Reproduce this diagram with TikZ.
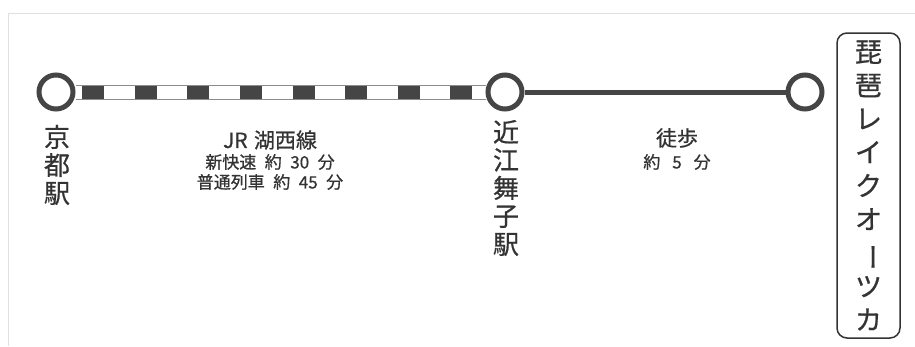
\documentclass[tikz,border=0pt]{standalone}
\usepackage{fontspec}
\newfontfamily\jpfont{Noto Sans CJK JP}[FakeBold=0.7]
\definecolor{ink}{HTML}{333333}
\definecolor{rail}{HTML}{454545}
\pgfdeclarelayer{back}
\pgfsetlayers{back,main}

\begin{document}
\begin{tikzpicture}[x=1pt,y=1pt,yscale=-1,
	station/.style={circle,draw=rail,line width=5pt,fill=white,minimum size=34pt,inner sep=0pt},
	tate/.style={align=center,text=ink,inner sep=0pt,font=\jpfont\fontsize{26}{28}\selectfont},
	head/.style={align=center,text=ink,inner sep=0pt,font=\jpfont\fontsize{21}{22}\selectfont},
	sub/.style={align=center,text=ink,inner sep=0pt,font=\jpfont\fontsize{17}{20}\selectfont},
	hotelbox/.style={draw=ink,line width=1.5pt,rounded corners=10pt,minimum width=63pt,minimum height=305pt,align=center,text=ink,inner sep=0pt,font=\jpfont\fontsize{27}{33.5}\selectfont}]
			\useasboundingbox (0,0) rectangle (915,346);
			\draw[black!12,line width=1pt] (8,346) -- (8,13) -- (915,13);
			
			\draw (56,92) node (kyoto) [station] {};
			\draw (505,92) node (omimaiko) [station] {};
			\draw (805,92) node (biwalake) [station] {};
			\draw (868.5,185.5) node (lakeotsuka) [hotelbox] {琵\\琶\\レ\\イ\\ク\\オ\\\rotatebox[origin=c]{-90}{ー}\\ツ\\カ};
			
			\begin{pgfonlayer}{back}
			\draw[black!45,line width=15pt] (kyoto) -- (omimaiko);
			\draw[white,line width=13pt] (kyoto) -- (omimaiko);
			\draw[rail,line width=13pt,dash pattern=on 22pt off 30.6pt,dash phase=46pt] (kyoto.east) -- (omimaiko.west);
			\draw[rail,line width=5pt] (omimaiko) -- (biwalake);
			\end{pgfonlayer}
			
			\draw (57,165) node (kyotoname) [tate] {京\\都\\駅};
			\draw (506,188) node (ominame) [tate] {近\\江\\舞\\子\\駅};
			\draw (270,140) node (jrline) [head] {JR\hspace{0.3em}湖西線};
			\draw (270,162) node (rapid) [sub] {新快速\hspace{0.5em}約\hspace{0.5em}30\hspace{0.5em}分};
			\draw (270,182) node (local) [sub] {普通列車\hspace{0.5em}約\hspace{0.5em}45\hspace{0.5em}分};
			\draw (677,138) node (walk) [head] {徒歩};
			\draw (677,162) node (walktime) [sub] {約\hspace{0.7em}5\hspace{0.7em}分};
\end{tikzpicture}
\end{document}
